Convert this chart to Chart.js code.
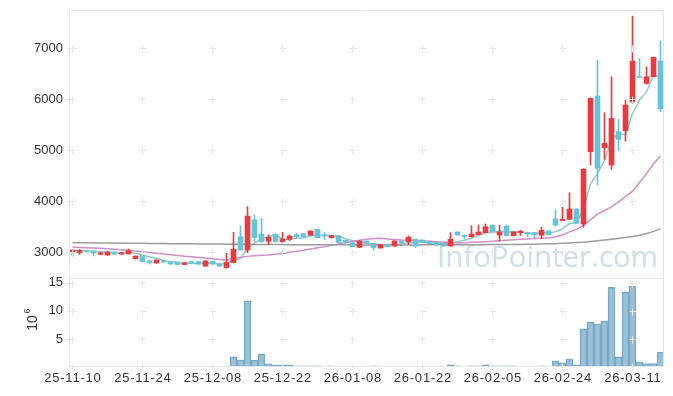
<!DOCTYPE html>
<html>
<head>
<meta charset="utf-8">
<script src="https://cdn.jsdelivr.net/npm/chart.js@4.4.1/dist/chart.umd.min.js"></script>
<style>
html, body { margin: 0; padding: 0; background: #fff; }
#wrap { position: relative; width: 673px; height: 396px; }
canvas { position: absolute; left: 0; }
#price { top: 0; }
#vol { top: 270px; }
</style>
</head>
<body>
<div id="wrap">
<canvas id="price" width="673" height="278"></canvas>
<canvas id="vol" width="673" height="126"></canvas>
</div>
<script>
// trading days
var dates = [
  '25-11-10','25-11-11','25-11-12','25-11-13','25-11-14','25-11-17','25-11-18','25-11-19','25-11-20','25-11-21',
  '25-11-24','25-11-25','25-11-26','25-11-27','25-11-28','25-12-01','25-12-02','25-12-03','25-12-04','25-12-05',
  '25-12-08','25-12-09','25-12-10','25-12-11','25-12-12','25-12-15','25-12-16','25-12-17','25-12-18','25-12-19',
  '25-12-22','25-12-23','25-12-24','25-12-26','25-12-29','25-12-30','26-01-02','26-01-05','26-01-06','26-01-07',
  '26-01-08','26-01-09','26-01-12','26-01-13','26-01-14','26-01-15','26-01-16','26-01-19','26-01-20','26-01-21',
  '26-01-22','26-01-23','26-01-26','26-01-27','26-01-28','26-01-29','26-01-30','26-02-02','26-02-03','26-02-04',
  '26-02-05','26-02-06','26-02-09','26-02-10','26-02-11','26-02-12','26-02-13','26-02-19','26-02-20','26-02-23',
  '26-02-24','26-02-25','26-02-26','26-02-27','26-03-03','26-03-04','26-03-05','26-03-06','26-03-09','26-03-10',
  '26-03-11','26-03-12','26-03-13','26-03-16','26-03-17'
];
var xTickLabels = ['25-11-10','25-11-24','25-12-08','25-12-22','26-01-08','26-01-22','26-02-05','26-02-24','26-03-11'];
var priceTicks = [3000, 4000, 5000, 6000, 7000];
var volTicks = [5, 10, 15];

var open = [2990,2995,3030,3020,2960,2945,3005,2965,2970,2875, 2940,2835,2790,2835,2815,2810,2760,2815,2815,2730,
  2825,2765,2700,2797,3306,3045,3633,3359,3216,3353, 3208,3255,3345,3365,3333,3451,3345,3286,3326,3235,
  3188,3098,3221,3176,3084,3157,3123,3221,3208,3255, 3240,3205,3196,3176,3123,3398,3333,3306,3345,3384,
  3529,3339,3515,3326,3384,3392,3384,3333,3418,3653, 3620,3647,3849,3555,4972,6063,5050,4711,5364,5383,
  5952,6450,6312,6442,6749];
var high = [3050,3055,3045,3030,3000,3010,3010,3000,3065,2930, 2945,2840,2855,2840,2820,2815,2795,2820,2820,2835,
  2830,2770,2980,3390,3515,3895,3731,3666,3340,3360, 3392,3340,3370,3370,3425,3455,3385,3330,3330,3240,
  3190,3225,3225,3180,3155,3160,3225,3225,3320,3260, 3245,3210,3215,3180,3384,3405,3340,3521,3535,3555,
  3535,3535,3520,3405,3430,3400,3390,3490,3425,3829, 3882,4168,3855,4640,6030,6769,5736,6442,5607,5985,
  7631,6802,6638,6830,7141];
var low = [2930,2960,3000,2930,2950,2940,2960,2960,2965,2870, 2810,2770,2785,2805,2765,2755,2755,2780,2765,2725,
  2765,2725,2690,2790,3040,2990,3221,3200,3150,3200, 3200,3230,3280,3300,3330,3280,3250,3280,3190,3150,
  3105,3090,3170,3040,3080,3105,3115,3170,3150,3090, 3185,3160,3125,3118,3118,3335,3270,3300,3340,3380,
  3400,3220,3320,3320,3330,3310,3290,3270,3340,3515, 3615,3640,3560,3490,4711,4319,4823,4627,4985,5181,
  5920,6430,6300,6440,5756];
var close = [3045,3035,3010,2985,2990,3005,2965,2990,3030,2925, 2815,2800,2850,2810,2770,2760,2790,2785,2770,2830,
  2770,2730,2800,3060,3045,3710,3286,3208,3294,3208, 3261,3320,3306,3306,3418,3286,3320,3326,3196,3202,
  3110,3221,3176,3090,3149,3110,3221,3176,3294,3123, 3190,3165,3157,3123,3255,3339,3310,3359,3398,3502,
  3404,3398,3326,3398,3412,3365,3339,3431,3345,3535, 3647,3849,3568,4630,6018,4646,5136,5626,5215,5887,
  6749,6430,6442,6822,5815];

var ma5 = [3030,3032,3030,3020,3013,3005,2991,2987,2996,2983, 2945,2912,2884,2840,2809,2798,2796,2783,2775,2787,
  2789,2777,2780,2838,2881,3069,3180,3262,3309,3341, 3251,3258,3278,3280,3322,3327,3327,3331,3309,3266,
  3231,3211,3181,3160,3149,3149,3149,3149,3190,3185, 3201,3190,3186,3152,3178,3208,3237,3277,3332,3382,
  3395,3412,3406,3406,3388,3380,3368,3389,3378,3403, 3459,3561,3589,3846,4342,4542,4800,5211,5328,5302,
  5723,5981,6145,6466,6452];
var ma20 = [3100,3095,3090,3085,3078,3070,3062,3050,3040,3025, 3010,2995,2980,2965,2950,2935,2922,2912,2900,2888,
  2875,2860,2850,2870,2905,2920,2930,2940,2948,2960, 2975,3000,3020,3040,3065,3090,3110,3140,3165,3190,
  3210,3235,3255,3270,3275,3260,3250,3240,3235,3230, 3225,3215,3205,3195,3185,3180,3185,3195,3200,3208,
  3215,3225,3235,3245,3255,3262,3270,3275,3280,3300, 3340,3400,3450,3530,3640,3750,3820,3890,3990,4090,
  4200,4370,4540,4730,4890];
var ma120 = [3188,3186,3185,3184,3183,3182,3180,3179,3178,3177, 3176,3174,3173,3172,3170,3169,3168,3166,3165,3164,
  3162,3161,3160,3158,3157,3156,3155,3154,3153,3152, 3151,3150,3150,3149,3148,3148,3147,3147,3146,3146,
  3145,3145,3145,3145,3145,3145,3145,3145,3145,3145, 3146,3146,3146,3147,3147,3148,3148,3149,3150,3150,
  3151,3152,3153,3154,3155,3156,3160,3163,3166,3170, 3175,3182,3190,3198,3210,3225,3240,3255,3272,3290,
  3310,3335,3370,3410,3460];

// volume, millions of shares
var volume = [0.04,0.03,0.05,0.03,0.04,0.03,0.04,0.03,0.05,0.04, 0.06,0.04,0.03,0.04,0.03,0.04,0.03,0.03,0.04,0.05,
  0.04,0.05,0.08,1.83,1.24,11.75,1.24,2.3,0.58,0.4, 0.4,0.4,0.22,0.22,0.2,0.2,0.05,0.2,0.05,0.05,
  0.05,0.05,0.05,0.2,0.05,0.05,0.05,0.05,0.05,0.05, 0.05,0.05,0.05,0.05,0.4,0.2,0.05,0.2,0.2,0.4,
  0.2,0.2,0.2,0.2,0.05,0.05,0.05,0.2,0.05,1.1, 0.75,1.4,0.4,6.8,8.0,7.65,8.2,14.2,1.8,13.3,
  14.4,0.9,0.6,0.6,2.65];

var UP = '#ea3a3f', DOWN = '#66c3da';
var FONT = '"Liberation Sans", Arial, sans-serif';
var candleColor = close.map(function(c, i) { return c >= open[i] ? UP : DOWN; });
var xTickIdx = dates.map(function(d, i) { return xTickLabels.indexOf(d) >= 0 ? i : -1; })
  .filter(function(i) { return i >= 0; });

// frame, '+' grid marks and tick labels, all placed with the chart's scales
function axisDecor(yVals, withX) {
  return {
    id: 'decor',
    afterDraw: function(chart) {
      var ctx = chart.ctx, a = chart.chartArea;
      var xs = chart.scales.x, ys = chart.scales.y;
      var l = Math.round(a.left) + 0.5, r = Math.round(a.right) - 0.5;
      var t = Math.round(a.top) + 0.5, b = Math.round(a.bottom) - 0.5;
      ctx.save();
      ctx.strokeStyle = '#e4e4e4';
      ctx.lineWidth = 1;
      ctx.beginPath();
      ctx.moveTo(l, b + 1); ctx.lineTo(l, t); ctx.lineTo(r, t); ctx.lineTo(r, b + 1);
      if (withX) { ctx.moveTo(l, b); ctx.lineTo(r, b); }
      ctx.stroke();
      ctx.strokeStyle = '#e6e6e6';
      ctx.beginPath();
      xTickIdx.forEach(function(i) {
        var px = Math.round(xs.getPixelForValue(i) - 0.5) + 0.5;
        yVals.forEach(function(v) {
          var py = Math.round(ys.getPixelForValue(v)) + 0.5;
          ctx.moveTo(px - 3, py); ctx.lineTo(px + 4, py);
          ctx.moveTo(px, py - 3); ctx.lineTo(px, py + 4);
        });
        if (withX) { ctx.moveTo(px, b - 3); ctx.lineTo(px, b + 4); }
      });
      yVals.forEach(function(v) {
        var py = Math.round(ys.getPixelForValue(v)) + 0.5;
        ctx.moveTo(l - 3, py); ctx.lineTo(l + 4, py);
      });
      ctx.stroke();

      ctx.fillStyle = '#333';
      ctx.font = '13px ' + FONT;
      ctx.textBaseline = 'middle';
      ctx.textAlign = 'right';
      yVals.forEach(function(v) {
        ctx.fillText(String(v), a.left - 6, ys.getPixelForValue(v));
      });
      if (withX) {
        ctx.textAlign = 'center';
        ctx.letterSpacing = '0.8px';
        xTickIdx.forEach(function(i) {
          ctx.fillText(dates[i], xs.getPixelForValue(i) + 0.4, a.bottom + 11);
        });
      }
      ctx.restore();
    }
  };
}

var watermark = {
  id: 'watermark',
  beforeDatasetsDraw: function(chart) {
    var ctx = chart.ctx;
    ctx.save();
    ctx.font = '29.5px "Open Sans", sans-serif';
    ctx.fillStyle = 'rgba(172,202,220,0.62)';
    ctx.textBaseline = 'alphabetic';
    ctx.textAlign = 'left';
    ctx.fillText('InfoPointer.com', 437, 267);
    ctx.restore();
  }
};

var volTitle = {
  id: 'volTitle',
  afterDraw: function(chart) {
    var ctx = chart.ctx;
    ctx.save();
    ctx.translate(33, 53);
    ctx.rotate(-Math.PI / 2);
    ctx.fillStyle = '#333';
    ctx.textBaseline = 'middle';
    ctx.textAlign = 'center';
    ctx.font = '14px ' + FONT;
    ctx.fillText('10', 0, 0);
    ctx.font = '9px ' + FONT;
    ctx.fillText('6', 12, -5);
    ctx.restore();
  }
};

var common = {
  responsive: false,
  animation: false,
  events: [],
  plugins: { legend: { display: false }, tooltip: { enabled: false } }
};

new Chart(document.getElementById('price'), {
  data: {
    labels: dates,
    datasets: [
      { type: 'line', data: ma120, borderColor: '#9c9c9c', borderWidth: 1.5, pointRadius: 0, order: 3 },
      { type: 'line', data: ma20, borderColor: '#cf8fcb', borderWidth: 1.5, pointRadius: 0, order: 3 },
      { type: 'line', data: ma5, borderColor: '#8ccdc2', borderWidth: 1.5, pointRadius: 0, order: 3 },
      { type: 'bar', data: low.map(function(l, i) { return [l, high[i]]; }), backgroundColor: candleColor,
        barThickness: 1, grouped: false, order: 1 },
      { type: 'bar', data: open.map(function(o, i) { return [o, close[i]]; }), backgroundColor: candleColor,
        barThickness: 5, minBarLength: 1, grouped: false, order: 0 }
    ]
  },
  options: Object.assign({}, common, {
    layout: { padding: { left: 69, right: 9, top: 10, bottom: 0 } },
    scales: {
      x: { type: 'category', display: false, offset: true },
      y: { display: false, min: 2496, max: 7751 }
    }
  }),
  plugins: [watermark, axisDecor(priceTicks, false)]
});

new Chart(document.getElementById('vol'), {
  type: 'bar',
  data: {
    labels: dates,
    datasets: [{
      data: volume,
      backgroundColor: 'rgba(128,176,202,0.78)',
      borderColor: 'rgba(96,154,192,0.85)',
      borderWidth: 1,
      barPercentage: 1,
      categoryPercentage: 1
    }]
  },
  options: Object.assign({}, common, {
    layout: { padding: { left: 69, right: 9, top: 8, bottom: 29 } },
    scales: {
      x: { type: 'category', display: false, offset: true },
      y: { display: false, min: 0, max: 15.85 }
    }
  }),
  plugins: [volTitle, axisDecor(volTicks, true)]
});
</script>
</body>
</html>
